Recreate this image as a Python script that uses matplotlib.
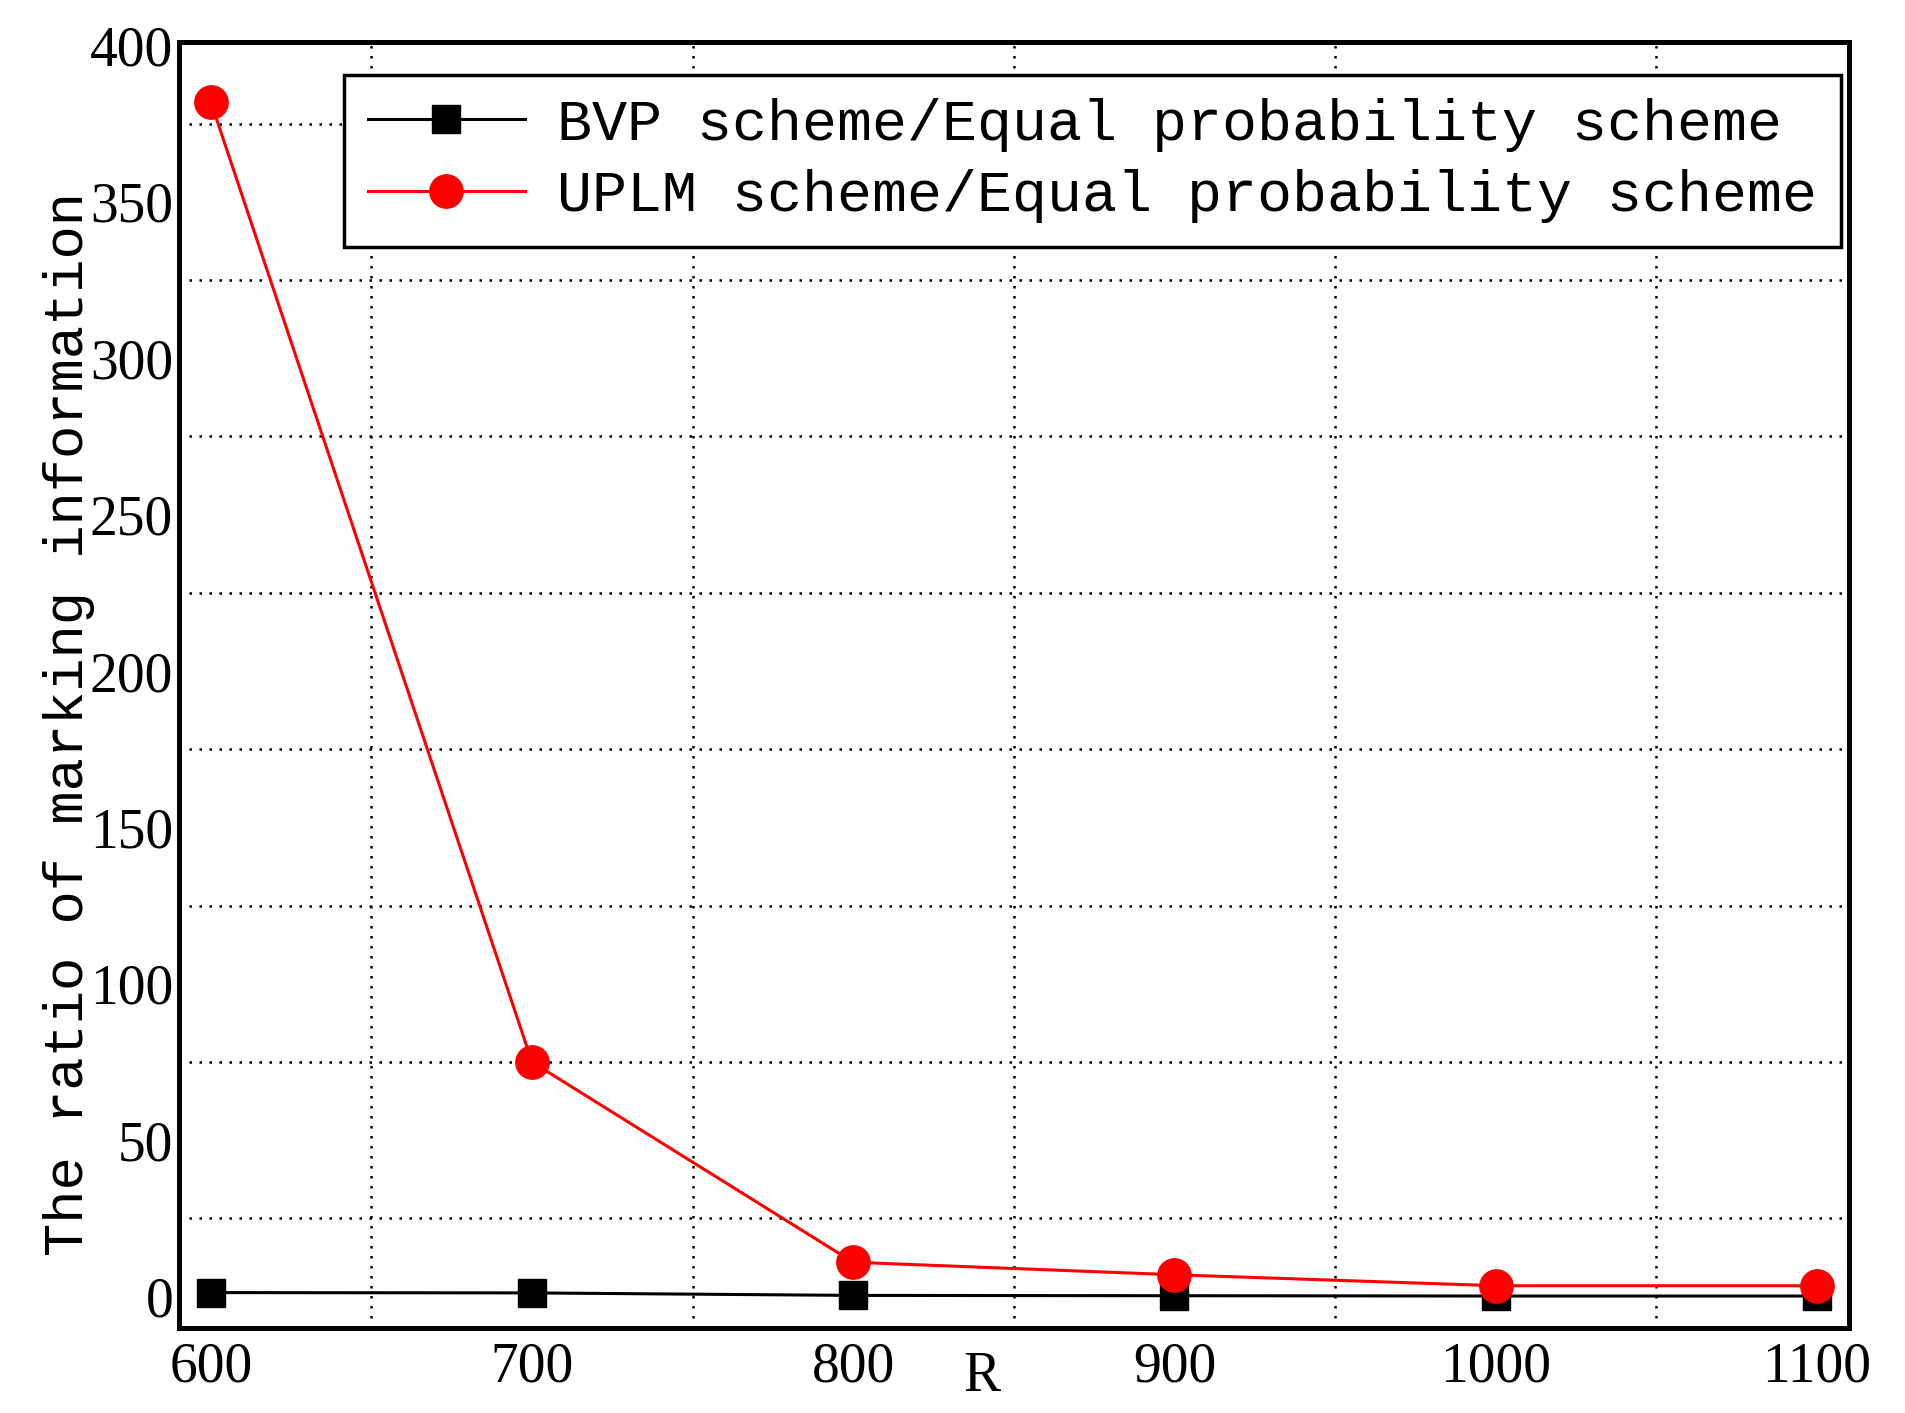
import matplotlib
matplotlib.use("Agg")
import matplotlib.pyplot as plt
import numpy as np

R = [600, 700, 800, 900, 1000, 1100]
bvp_ratio = [1.3, 1.2, 0.4, 0.3, 0.2, 0.2]
uplm_ratio = [382, 75, 11, 7, 3.5, 3.5]
x_ticks = [600, 700, 800, 900, 1000, 1100]
y_ticks = [0, 50, 100, 150, 200, 250, 300, 350, 400]
x_grid = [650, 750, 850, 950, 1050]
y_grid = [25, 75, 125, 175, 225, 275, 325, 375]
labels = ["BVP scheme/Equal probability scheme", "UPLM scheme/Equal probability scheme"]

fig = plt.figure(figsize=(19.05, 14.13), dpi=100)
ax = fig.add_axes([0.0938, 0.0602, 0.8768, 0.9098])

ax.plot(R, bvp_ratio, color="black", lw=2.2, marker="s", ms=20, label=labels[0], zorder=3)
ax.plot(R, uplm_ratio, color="red", lw=2.2, marker="o", ms=24, label=labels[1], zorder=4)

ax.set_xlim(590, 1110)
ax.set_ylim(-10, 401)
ax.set_xticks(x_ticks)
ax.set_yticks(y_ticks)
for g in x_grid:
    ax.axvline(g, color="black", lw=1.8, ls=(0, (1, 3)), zorder=1)
for g in y_grid:
    ax.axhline(g, color="black", lw=1.8, ls=(0, (1, 3)), zorder=1)

serif = "Liberation Serif"
ax.tick_params(length=0, pad=4)
ax.tick_params(axis="x", pad=10)
for lab in ax.get_xticklabels() + ax.get_yticklabels():
    lab.set_fontfamily(serif)
    lab.set_fontsize(40)

for s in ax.spines.values():
    s.set_linewidth(3.6)

ax.set_xlabel("R", fontfamily=serif, fontsize=40)
ax.xaxis.set_label_coords(0.481, -0.018)
ax.set_ylabel("The ratio of marking information", fontfamily="Liberation Mono", fontsize=40)
ax.yaxis.set_label_coords(-0.05, 0.47)

leg = ax.legend(loc="upper right", bbox_to_anchor=(0.995, 0.975), borderaxespad=0,
                prop={"family": "Liberation Mono", "size": 42},
                handlelength=2.7, handletextpad=0.55, labelspacing=0.3,
                borderpad=0.4, fancybox=False, framealpha=1, edgecolor="black")
leg.get_frame().set_linewidth(2.5)

fig.savefig("out.png", dpi=100)
